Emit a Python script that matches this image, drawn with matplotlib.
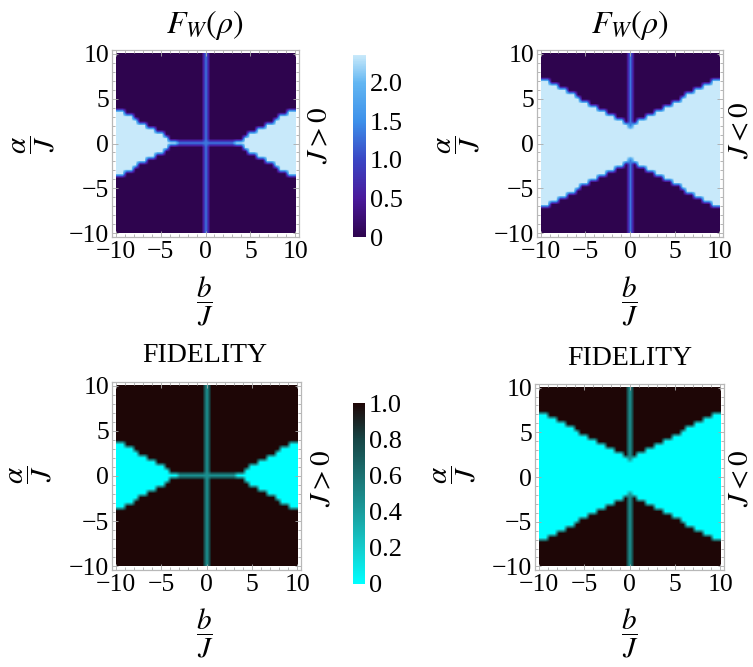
import numpy as np
import matplotlib.pyplot as plt
from matplotlib.colors import LinearSegmentedColormap

plt.rcParams['font.family'] = 'Liberation Serif'
plt.rcParams['mathtext.fontset'] = 'stix'

# b/J sample points for b >= 0 (mirrored for b < 0)
b_half = [0, 0.5, 1, 1.5, 2, 2.5, 3, 3.5, 4, 4.5, 5, 5.5, 6, 6.5, 7, 7.5, 8, 8.5, 9, 9.5, 10]
# half-width in alpha/J of the bright region
edge_jpos = [0, 0, 0, 0, 0, 0, 0, 0.2, 0.5, 0.8, 1.1, 1.4, 1.7, 1.9, 2.2, 2.5, 2.8, 3.1, 3.4, 3.7, 4.0]
edge_jneg = [2.0, 2.3, 2.6, 2.8, 3.1, 3.4, 3.7, 3.9, 4.2, 4.5, 4.8, 5.0, 5.3, 5.6, 5.9, 6.1, 6.4, 6.7, 7.0, 7.2, 7.5]
cross_end = 3.2   # J>0: line along alpha=0 up to |b| = 3.2

# levels
fw_dark, fw_bright, fw_line, fw_max = 0.0, 2.36, 1.35, 2.36
fid_dark, fid_bright, fid_line = 1.0, 0.0, 0.45

fw_ticks = [0, 0.5, 1.0, 1.5, 2.0]
fw_ticklabels = ['0', '0.5', '1.0', '1.5', '2.0']
fid_ticks = [0, 0.2, 0.4, 0.6, 0.8, 1.0]
fid_ticklabels = ['0', '0.2', '0.4', '0.6', '0.8', '1.0']

fw_cmap = LinearSegmentedColormap.from_list('fw', [
    (0.0, '#2e044e'), (0.5 / 2.36, '#4a1a9c'), (1.0 / 2.36, '#3a46c4'),
    (1.5 / 2.36, '#3d90ea'), (2.0 / 2.36, '#62b6f2'), (1.0, '#c8e9fa')])
fid_cmap = LinearSegmentedColormap.from_list('fid', [
    (0.0, '#00ffff'), (0.2, '#14cccc'), (0.4, '#1a9c9c'),
    (0.6, '#1b7272'), (0.8, '#164545'), (1.0, '#1e0606')])


def make_field(edges, bright, dark, line, cross):
    b_full = np.array([-v for v in b_half[::-1]] + b_half[1:])
    e_full = np.array(edges[::-1] + edges[1:])
    B, A = np.meshgrid(b_full, b_full)
    E = np.tile(e_full, (len(b_full), 1))
    Z = np.where(np.abs(A) < E, bright, dark).astype(float)
    on_line = (B == 0)
    if cross:
        on_line |= (A == 0) & (np.abs(B) < cross_end)
    Z[on_line & (Z == dark)] = line
    return Z


def style_axes(ax):
    ax.set_xlim(-10.4, 10.4)
    ax.set_ylim(-10.4, 10.4)
    ax.set_xticks([-10, -5, 0, 5, 10])
    ax.set_yticks([-10, -5, 0, 5, 10])
    ax.set_xticklabels(['\u221210', '\u22125', '0', '5', '10'])
    ax.set_yticklabels(['\u221210', '\u22125', '0', '5', '10'])
    ax.set_xticks(np.arange(-10, 11, 1), minor=True)
    ax.set_yticks(np.arange(-10, 11, 1), minor=True)
    ax.tick_params(which='both', direction='in', top=True, right=True,
                   color='#aaaaaa', width=0.6, labelsize=18.5)
    ax.tick_params(axis='x', pad=3)
    ax.tick_params(axis='y', pad=2)
    ax.tick_params(which='major', length=4)
    ax.tick_params(which='minor', length=2)
    for s in ax.spines.values():
        s.set_color('#b8b8b8')
        s.set_linewidth(0.9)


fig = plt.figure(figsize=(7.53, 6.67), dpi=100)
W, H = 753.0, 667.0


def px_axes(x0, y0, x1, y1):
    return fig.add_axes([x0 / W, 1 - y1 / H, (x1 - x0) / W, (y1 - y0) / H])


panels = [
    (px_axes(112, 50, 299, 237), edge_jpos, True, 'fw'),
    (px_axes(537, 50, 723, 237), edge_jneg, False, 'fw'),
    (px_axes(112, 382, 301, 570), edge_jpos, True, 'fid'),
    (px_axes(535, 384, 724, 570), edge_jneg, False, 'fid'),
]

images = {}
for ax, edges, cross, kind in panels:
    if kind == 'fw':
        Z = make_field(edges, fw_bright, fw_dark, fw_line, cross)
        im = ax.imshow(Z, cmap=fw_cmap, vmin=0, vmax=fw_max, origin='lower',
                       extent=(-10, 10, -10, 10), interpolation='bilinear')
    else:
        Z = make_field(edges, fid_bright, fid_dark, fid_line, cross)
        im = ax.imshow(Z, cmap=fid_cmap, vmin=0, vmax=1, origin='lower',
                       extent=(-10, 10, -10, 10), interpolation='bilinear')
    ax.set_aspect('auto')
    style_axes(ax)
    images[kind] = im

# colorbars
cax1 = px_axes(353, 55, 366, 237)
cb1 = fig.colorbar(images['fw'], cax=cax1, ticks=fw_ticks)
cb1.ax.set_yticklabels(fw_ticklabels)
cax2 = px_axes(353, 403, 365, 584)
cb2 = fig.colorbar(images['fid'], cax=cax2, ticks=fid_ticks)
cb2.ax.set_yticklabels(fid_ticklabels)
for cb in (cb1, cb2):
    cb.outline.set_linewidth(0)
    cb.ax.tick_params(length=0, labelsize=19, pad=3)

# titles
for x in (205, 630):
    fig.text(x / W, 1 - 25 / H, r'$F_W(\rho)$', ha='center', va='center', fontsize=23)
fig.text(205 / W, 1 - 355 / H, 'FIDELITY', ha='center', va='center', fontsize=20)
fig.text(630 / W, 1 - 358 / H, 'FIDELITY', ha='center', va='center', fontsize=20)

# axis labels
for x, y in [(205, 301), (630, 301), (205, 633), (630, 633)]:
    fig.text(x / W, 1 - y / H, r'$\dfrac{b}{J}$', ha='center', va='center', fontsize=21)
for x, y in [(34, 145), (459, 145), (31, 475), (455, 475)]:
    fig.text(x / W, 1 - y / H, r'$\dfrac{\alpha}{J}$', ha='center', va='center',
             fontsize=21, rotation=90)

# J sign labels
fig.text(320 / W, 1 - 135 / H, r'$J>0$', ha='center', va='center', fontsize=21, rotation=90)
fig.text(323 / W, 1 - 478 / H, r'$J>0$', ha='center', va='center', fontsize=21, rotation=90)
fig.text(741 / W, 1 - 130 / H, r'$J<0$', ha='center', va='center', fontsize=21, rotation=90)
fig.text(741 / W, 1 - 478 / H, r'$J<0$', ha='center', va='center', fontsize=21, rotation=90)

fig.savefig('out.png', dpi=100)
